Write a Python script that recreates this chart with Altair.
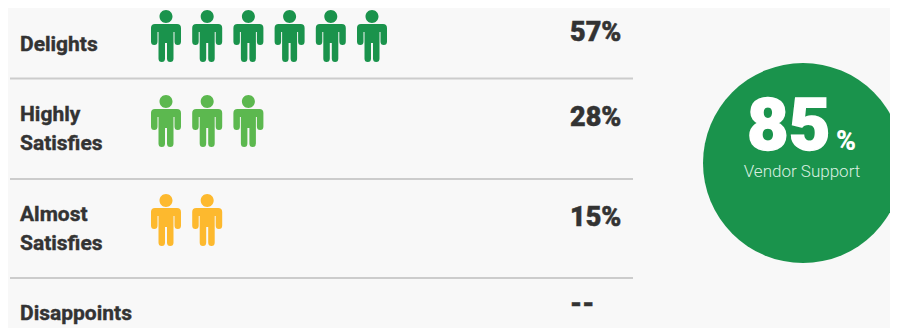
import altair as alt
import pandas as pd

FONT = "Roboto"
BG = "#f8f8f8"
INK = "#333333"

categories = ["Delights", "Highly Satisfies", "Almost Satisfies", "Disappoints"]
label_text = ["Delights", "Highly\nSatisfies", "Almost\nSatisfies", "Disappoints"]
percent_text = ["57%", "28%", "15%", "--"]
icon_counts = [6, 3, 2, 0]
icon_colors = ["#1a934c", "#5cb84f", "#fdb92e", "#cccccc"]
score_value = ["85"]
score_unit = ["%"]
score_label = ["Vendor Support"]


def person_path():
    u = 26.0
    pts = [
        ("M", -11, -12), ("L", 11, -12),
        ("Q", 15, -12, 15, -8), ("L", 15, 5.5),
        ("Q", 15, 9, 11.75, 9), ("Q", 8.5, 9, 8.5, 5.5),
        ("L", 8.5, -4), ("L", 7.5, -4), ("L", 7.5, 22.5),
        ("Q", 7.5, 26, 4.25, 26), ("Q", 1, 26, 1, 22.5),
        ("L", 1, 7), ("L", -1, 7), ("L", -1, 22.5),
        ("Q", -1, 26, -4.25, 26), ("Q", -7.5, 26, -7.5, 22.5),
        ("L", -7.5, -4), ("L", -8.5, -4), ("L", -8.5, 5.5),
        ("Q", -8.5, 9, -11.75, 9), ("Q", -15, 9, -15, 5.5),
        ("L", -15, -8), ("Q", -15, -12, -11, -12),
    ]
    s = ""
    for p in pts:
        s += p[0] + " ".join(f"{v / u:.4f}" for v in p[1:])
    s += "Z"
    r, cy, k = 6.5, -19.5, 3.6
    head = [
        ("M", -r, cy),
        ("C", -r, cy - k, -k, cy - r, 0, cy - r),
        ("C", k, cy - r, r, cy - k, r, cy),
        ("C", r, cy + k, k, cy + r, 0, cy + r),
        ("C", -k, cy + r, -r, cy + k, -r, cy),
    ]
    for p in head:
        s += p[0] + " ".join(f"{v / u:.4f}" for v in p[1:])
    return s + "Z"


row_ids = list(range(len(categories)))
rows = pd.DataFrame({"row": row_ids, "category": categories, "label": label_text, "percent": percent_text})
icons = pd.DataFrame(
    [{"row": r, "category": c, "i": i}
     for r, c, n in zip(row_ids, categories, icon_counts) for i in range(n)]
)
separators = pd.DataFrame({"row": row_ids[:3]})
score = pd.DataFrame({"value": score_value, "unit": score_unit, "name": score_label})


def row_y(positions):
    return alt.Y("row:Q", axis=None, scale=alt.Scale(domain=row_ids[:len(positions)], range=positions))


people = alt.Chart(icons).mark_point(shape=person_path(), filled=True, opacity=1, size=2704, strokeWidth=0).encode(
    x=alt.X("i:Q", axis=None, scale=alt.Scale(domain=[0, 5], range=[158, 364])),
    y=row_y([28, 113, 212, 300]),
    color=alt.Color("category:N", legend=None, scale=alt.Scale(domain=categories, range=icon_colors)),
)

rules = alt.Chart(separators).mark_rule(color="#cccccc", strokeWidth=2).encode(
    x=alt.value(2), x2=alt.value(625),
    y=row_y([70.5, 171, 270]),
)

labels = alt.Chart(rows).mark_text(
    align="left", baseline="middle", font=FONT, fontWeight="bold", fontSize=21,
    color=INK, lineBreak="\n", lineHeight=29, stroke=INK, strokeWidth=0.4,
).encode(
    x=alt.value(12),
    y=row_y([37, 107, 207, 306]),
    text="label:N",
)

percents = alt.Chart(rows).mark_text(
    align="left", baseline="middle", font=FONT, fontWeight=900, fontSize=27, color=INK,
    stroke=INK, strokeWidth=0.5,
).encode(
    x=alt.value(562),
    y=row_y([25, 110, 210, 297]),
    text="percent:N",
)

circle = alt.Chart(score).mark_circle(color="#1a934c", size=40000, opacity=1).encode(
    x=alt.value(795), y=alt.value(155),
)
big = alt.Chart(score).mark_text(
    align="left", baseline="middle", font=FONT, fontWeight=900, fontSize=72, color="#ffffff",
    stroke="#ffffff", strokeWidth=1.5,
).encode(x=alt.value(739), y=alt.value(120), text="value:N")
unit = alt.Chart(score).mark_text(
    align="left", baseline="middle", font=FONT, fontWeight=900, fontSize=27, color="#ffffff",
).encode(x=alt.value(828), y=alt.value(134), text="unit:N")
name = alt.Chart(score).mark_text(
    align="center", baseline="middle", font=FONT, fontWeight=300, fontSize=17, color="#d9efe0",
).encode(x=alt.value(794), y=alt.value(164), text="name:N")

chart = (
    alt.layer(rules, people, labels, percents, circle, big, unit, name)
    .resolve_scale(x="independent", y="independent", color="independent")
    .properties(width=882, height=320, padding=0, background=BG,
                autosize=alt.AutoSizeParams(type="none"))
    .configure_view(stroke=None)
)

chart.save("out.html", embed_options={"renderer": "svg", "actions": False})
